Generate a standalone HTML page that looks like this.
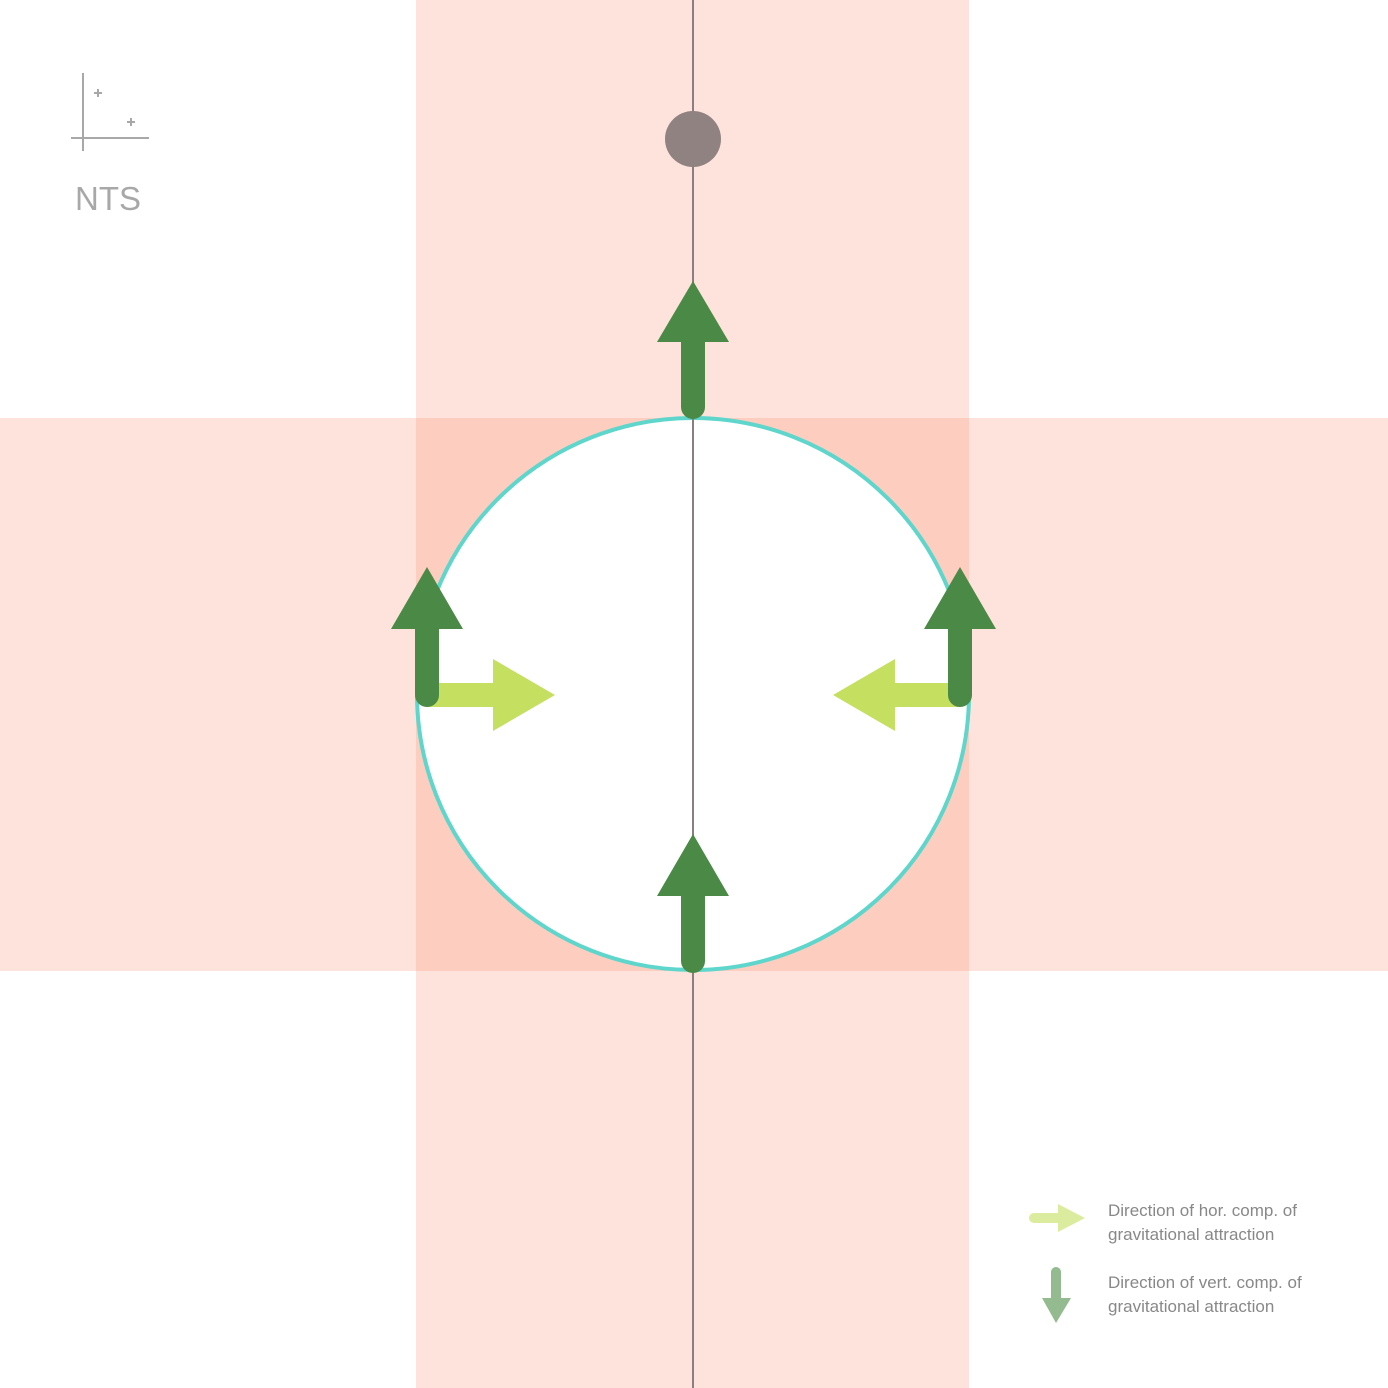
<!DOCTYPE html>
<html><head><meta charset="utf-8"><style>html,body{margin:0;padding:0;background:#fff}svg{display:block}</style></head>
<body>
<svg width="1388" height="1388" viewBox="0 0 1388 1388" xmlns="http://www.w3.org/2000/svg" font-family="Liberation Sans, sans-serif">
<rect x="416" y="0" width="553" height="1388" fill="#fee3dc"/>
<rect x="0" y="418" width="1388" height="553" fill="#fee3dc"/>
<rect x="416" y="418" width="553" height="553" fill="#fdcdc0"/>
<circle cx="693" cy="694" r="276" fill="#fff" stroke="#5fd6cc" stroke-width="4"/>
<line x1="693" y1="0" x2="693" y2="1388" stroke="#8a7f7f" stroke-width="2"/>
<circle cx="693" cy="139" r="28" fill="#8f8280"/>

<g fill="#c5df60" stroke="none">
<g><rect x="427" y="683" width="68" height="24"/><polygon points="493,659 555,695 493,731"/></g>
<g><rect x="893" y="683" width="67" height="24"/><polygon points="895,659 833,695 895,731"/></g>
</g>
<g fill="#4a8a46">
<g><line x1="693" y1="407" x2="693" y2="338" stroke="#4a8a46" stroke-width="24" stroke-linecap="round"/><polygon points="657,342 729,342 693,281"/></g>
<g><line x1="427" y1="695" x2="427" y2="625" stroke="#4a8a46" stroke-width="24" stroke-linecap="round"/><polygon points="391,629 463,629 427,567"/></g>
<g><line x1="960" y1="695" x2="960" y2="625" stroke="#4a8a46" stroke-width="24" stroke-linecap="round"/><polygon points="924,629 996,629 960,567"/></g>
<g><line x1="693" y1="961" x2="693" y2="892" stroke="#4a8a46" stroke-width="24" stroke-linecap="round"/><polygon points="657,896 729,896 693,834"/></g>
</g>

<g stroke="#a8a8a8" stroke-width="2">
<line x1="83" y1="73" x2="83" y2="151"/><line x1="71" y1="138" x2="149" y2="138"/>
<line x1="94" y1="93" x2="102" y2="93"/><line x1="98" y1="89" x2="98" y2="97"/>
<line x1="127" y1="122" x2="135" y2="122"/><line x1="131" y1="118" x2="131" y2="126"/>
</g>
<text x="75" y="210" font-size="33" fill="#a8a8a8">NTS</text>

<g>
<g><line x1="1034" y1="1218" x2="1060" y2="1218" stroke="#dcec9e" stroke-width="10" stroke-linecap="round"/><polygon points="1058,1204 1085,1218 1058,1232" fill="#dcec9e"/></g>
<text x="1108" y="1216" font-size="17" fill="#888"><tspan x="1108">Direction of hor. comp. of</tspan><tspan x="1108" dy="24">gravitational attraction</tspan></text>
<g><line x1="1056" y1="1272" x2="1056" y2="1300" stroke="#93bb8f" stroke-width="10" stroke-linecap="round"/><polygon points="1042,1298 1071,1298 1056,1323" fill="#93bb8f"/></g>
<text x="1108" y="1288" font-size="17" fill="#888"><tspan x="1108">Direction of vert. comp. of</tspan><tspan x="1108" dy="24">gravitational attraction</tspan></text>
</g>
</svg>
</body></html>
